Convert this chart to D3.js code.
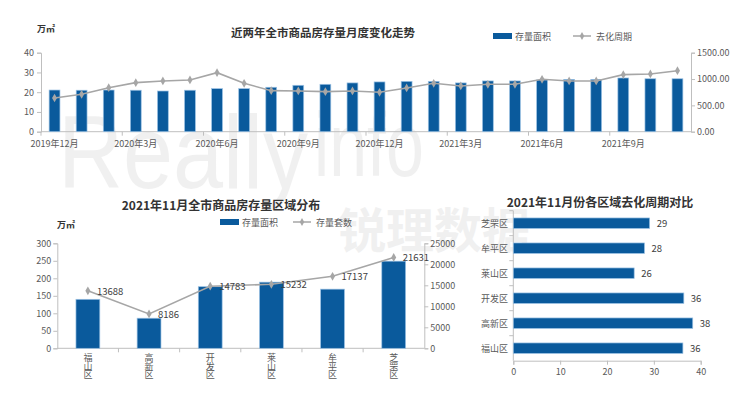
<!DOCTYPE html>
<html>
<head>
<meta charset="utf-8">
<script src="https://cdn.jsdelivr.net/npm/d3@7"></script>
<style>
  body { margin: 0; background: #fff; }
  svg { display: block; font-family: "Noto Sans CJK SC", "Noto Sans", sans-serif; }
</style>
</head>
<body>
<div id="chart"></div>
<script>
const BLUE = '#0a5a9c'
const EDGE = '#9cc2e4'
const GRAY = '#a6a6a6'
const AXIS = '#bfbfbf'
const TEXT = '#595959'
const TITLE = '#333333'

// monthly stock, last two years
const months = [
  '2019年12月', '2020年1月', '2020年2月', '2020年3月', '2020年4月', '2020年5月',
  '2020年6月', '2020年7月', '2020年8月', '2020年9月', '2020年10月', '2020年11月',
  '2020年12月', '2021年1月', '2021年2月', '2021年3月', '2021年4月', '2021年5月',
  '2021年6月', '2021年7月', '2021年8月', '2021年9月', '2021年10月', '2021年11月',
]
const stockArea = [21.1, 21.0, 21.1, 21.0, 20.6, 21.0, 21.8, 21.8, 22.5, 23.5, 24.0, 24.7,
  25.2, 25.5, 25.5, 24.7, 25.7, 25.7, 26.2, 26.5, 26.5, 27.2, 26.8, 26.8]
const sellCycle = [640, 710, 836, 931, 963, 982, 1120, 919, 779, 773, 760, 773,
  748, 830, 919, 868, 900, 900, 995, 963, 963, 1083, 1096, 1158]
const monthTicks = ['2019年12月', '2020年3月', '2020年6月', '2020年9月', '2020年12月', '2021年3月', '2021年6月', '2021年9月']
const areaTicks = [0, 10, 20, 30, 40]
const cycleTicks = [0, 500, 1000, 1500]

// districts, Nov 2021
const districts = ['福山区', '高新区', '开发区', '莱山区', '牟平区', '芝罘区']
const districtArea = [140, 86, 176, 189, 169, 249]
const districtUnits = [13688, 8186, 14783, 15232, 17137, 21631]
const districtAreaTicks = [0, 50, 100, 150, 200, 250, 300]
const districtUnitTicks = [0, 5000, 10000, 15000, 20000, 25000]

// sell-through months by district
const cycleDistricts = ['芝罘区', '牟平区', '莱山区', '开发区', '高新区', '福山区']
const cycleMonths = [29.1, 28.0, 25.8, 36.4, 38.3, 36.2]
const cycleMonthTicks = [0, 10, 20, 30, 40]

const W = 740, H = 398
const svg = d3.select('#chart').append('svg').attr('width', W).attr('height', H)

// faint watermark
const wm = svg.append('g').attr('fill', '#000').attr('opacity', 0.055)
wm.append('text').attr('x', 58).attr('y', 188)
  .style('font-family', '"Liberation Sans", Arial, sans-serif')
  .attr('font-size', 104).attr('textLength', 250).attr('lengthAdjust', 'spacingAndGlyphs')
  .text('Really')
wm.append('text').attr('x', 314).attr('y', 176)
  .style('font-family', '"Liberation Sans", Arial, sans-serif')
  .attr('font-size', 90).attr('textLength', 110).attr('lengthAdjust', 'spacingAndGlyphs')
  .text('info')
wm.append('text').attr('x', 338).attr('y', 248)
  .attr('font-size', 48).attr('font-weight', 700)
  .text('锐理数据')

function txt(g, x, y, s, opts = {}) {
  return g.append('text')
    .attr('x', x).attr('y', y)
    .attr('font-size', opts.size || 9)
    .attr('font-weight', opts.weight || 400)
    .attr('fill', opts.fill || TEXT)
    .attr('text-anchor', opts.anchor || 'start')
    .attr('dominant-baseline', 'central')
    .text(s)
}

function styleAxis(axis) {
  axis.select('.domain').attr('stroke', AXIS)
  axis.selectAll('.tick line').attr('stroke', AXIS)
  axis.selectAll('.tick text').attr('fill', TEXT).attr('font-size', 9)
    .style('font-family', '"Noto Sans CJK SC", "Noto Sans", sans-serif')
}

function legend(g, x, y, label1, label2, gap) {
  g.append('rect').attr('x', x).attr('y', y - 3).attr('width', 19).attr('height', 6).attr('fill', BLUE)
  txt(g, x + 22, y, label1)
  const lx = x + gap
  g.append('line').attr('x1', lx).attr('x2', lx + 18).attr('y1', y).attr('y2', y)
    .attr('stroke', GRAY).attr('stroke-width', 1.5)
  g.append('path').attr('transform', `translate(${lx + 9},${y})`)
    .attr('d', d3.symbol(d3.symbolDiamond, 18)()).attr('fill', GRAY)
  txt(g, lx + 23, y, label2)
}

const diamond = d3.symbol(d3.symbolDiamond, 22)

// ---------- top: monthly trend ----------
{
  const g = svg.append('g')
  const x = d3.scaleBand().domain(months).range([41, 691]).paddingInner(0.6).paddingOuter(0.3)
  const y = d3.scaleLinear().domain([0, 40]).range([131.7, 52.7])
  const y2 = d3.scaleLinear().domain([0, 1500]).range([131.7, 52.7])

  txt(g, 323, 32, '近两年全市商品房存量月度变化走势', { size: 11.5, weight: 700, fill: TITLE, anchor: 'middle' })
  txt(g, 37, 28, '万㎡', { size: 9, weight: 700, fill: TITLE })
  legend(g, 493, 36, '存量面积', '去化周期', 80)

  g.append('g').attr('transform', 'translate(41,0)')
    .call(d3.axisLeft(y).tickValues(areaTicks).tickSize(4).tickPadding(3))
    .call(styleAxis)
  g.append('g').attr('transform', 'translate(691,0)')
    .call(d3.axisRight(y2).tickValues(cycleTicks).tickSize(4).tickPadding(2).tickFormat(d3.format('.2f')))
    .call(styleAxis)

  const xa = g.append('g').attr('transform', 'translate(0,131.7)')
  xa.append('line').attr('x1', 41).attr('x2', 691).attr('stroke', AXIS)
  monthTicks.forEach((m) => {
    const bx = x(m) - x.step() * x.paddingInner() / 2
    xa.append('line').attr('x1', bx).attr('x2', bx).attr('y1', 0).attr('y2', 4).attr('stroke', AXIS)
    txt(xa, x(m) + x.bandwidth() / 2, 12, m, { anchor: 'middle' })
  })

  g.selectAll('.bar').data(months).join('rect')
    .attr('x', (d) => x(d)).attr('width', x.bandwidth())
    .attr('y', (d, i) => y(stockArea[i])).attr('height', (d, i) => y(0) - y(stockArea[i]))
    .attr('fill', BLUE).attr('stroke', EDGE).attr('stroke-width', 0.7)

  const cx = (d) => x(d) + x.bandwidth() / 2
  g.append('path').datum(months)
    .attr('d', d3.line().x(cx).y((d, i) => y2(sellCycle[i])))
    .attr('fill', 'none').attr('stroke', GRAY).attr('stroke-width', 1.6)
  g.selectAll('.pt').data(months).join('path')
    .attr('transform', (d, i) => `translate(${cx(d)},${y2(sellCycle[i])})`)
    .attr('d', diamond()).attr('fill', GRAY)
}

// ---------- bottom left: district stock ----------
{
  const g = svg.append('g')
  const x = d3.scaleBand().domain(districts).range([57.3, 424.3]).paddingInner(0.61).paddingOuter(0.305)
  const y = d3.scaleLinear().domain([0, 300]).range([348.3, 243.3])
  const y2 = d3.scaleLinear().domain([0, 25000]).range([348.3, 243.3])

  txt(g, 221, 204, '2021年11月全市商品房存量区域分布', { size: 12, weight: 700, fill: TITLE, anchor: 'middle' })
  txt(g, 57, 224, '万㎡', { size: 9, weight: 700, fill: TITLE })
  legend(g, 220, 222, '存量面积', '存量套数', 73)

  g.append('g').attr('transform', 'translate(57.3,0)')
    .call(d3.axisLeft(y).tickValues(districtAreaTicks).tickSize(4).tickPadding(2))
    .call(styleAxis)
  g.append('g').attr('transform', 'translate(424.3,0)')
    .call(d3.axisRight(y2).tickValues(districtUnitTicks).tickSize(4).tickPadding(2).tickFormat(d3.format('d')))
    .call(styleAxis)

  const xa = g.append('g').attr('transform', 'translate(0,348.3)')
  xa.append('line').attr('x1', 57.3).attr('x2', 424.3).attr('stroke', AXIS)
  districts.forEach((d, i) => {
    const bx = x(d) - x.step() * x.paddingInner() / 2
    if (i > 0) xa.append('line').attr('x1', bx).attr('x2', bx).attr('y1', 0).attr('y2', 4).attr('stroke', AXIS)
    // vertical label, characters stacked top to bottom
    xa.append('text')
      .attr('x', x(d) + x.bandwidth() / 2).attr('y', 5)
      .style('writing-mode', 'vertical-rl')
      .attr('font-size', 9).attr('letter-spacing', -0.4)
      .attr('fill', TEXT)
      .text(d)
  })

  g.selectAll('.bar').data(districts).join('rect')
    .attr('x', (d) => x(d)).attr('width', x.bandwidth())
    .attr('y', (d, i) => y(districtArea[i])).attr('height', (d, i) => y(0) - y(districtArea[i]))
    .attr('fill', BLUE).attr('stroke', EDGE).attr('stroke-width', 0.7)

  const cx = (d) => x(d) + x.bandwidth() / 2
  g.append('path').datum(districts)
    .attr('d', d3.line().x(cx).y((d, i) => y2(districtUnits[i])))
    .attr('fill', 'none').attr('stroke', GRAY).attr('stroke-width', 1.6)
  g.selectAll('.pt').data(districts).join('path')
    .attr('transform', (d, i) => `translate(${cx(d)},${y2(districtUnits[i])})`)
    .attr('d', diamond()).attr('fill', GRAY)
  districts.forEach((d, i) => {
    txt(g, cx(d) + 9, y2(districtUnits[i]), districtUnits[i], { size: 9.5, fill: '#404040' })
  })
}

// ---------- bottom right: sell-through cycle ----------
{
  const g = svg.append('g')
  const y = d3.scaleBand().domain(cycleDistricts).range([210.7, 360.7]).paddingInner(0.58).paddingOuter(0.29)
  const x = d3.scaleLinear().domain([0, 40]).range([513.3, 700.7])

  txt(g, 600, 201, '2021年11月份各区域去化周期对比', { size: 12, weight: 700, fill: TITLE, anchor: 'middle' })

  g.append('g').attr('transform', 'translate(0,360.7)')
    .call(d3.axisBottom(x).tickValues(cycleMonthTicks).tickSize(4).tickPadding(4))
    .call(styleAxis)

  const ya = g.append('g')
  ya.append('line').attr('x1', 513.3).attr('x2', 513.3).attr('y1', 210.7).attr('y2', 360.7).attr('stroke', AXIS)
  cycleDistricts.forEach((d, i) => {
    const by = y(d) - y.step() * y.paddingInner() / 2
    ya.append('line').attr('x1', 509.3).attr('x2', 513.3).attr('y1', by).attr('y2', by).attr('stroke', AXIS)
    txt(ya, 508, y(d) + y.bandwidth() / 2, d, { anchor: 'end' })
  })

  g.selectAll('.bar').data(cycleDistricts).join('rect')
    .attr('y', (d) => y(d)).attr('height', y.bandwidth())
    .attr('x', x(0)).attr('width', (d, i) => x(cycleMonths[i]) - x(0))
    .attr('fill', BLUE).attr('stroke', EDGE).attr('stroke-width', 0.7)
  cycleDistricts.forEach((d, i) => {
    txt(g, x(cycleMonths[i]) + 7, y(d) + y.bandwidth() / 2, d3.format('.0f')(cycleMonths[i]), { size: 9.5, fill: '#404040' })
  })
}
</script>
</body>
</html>
